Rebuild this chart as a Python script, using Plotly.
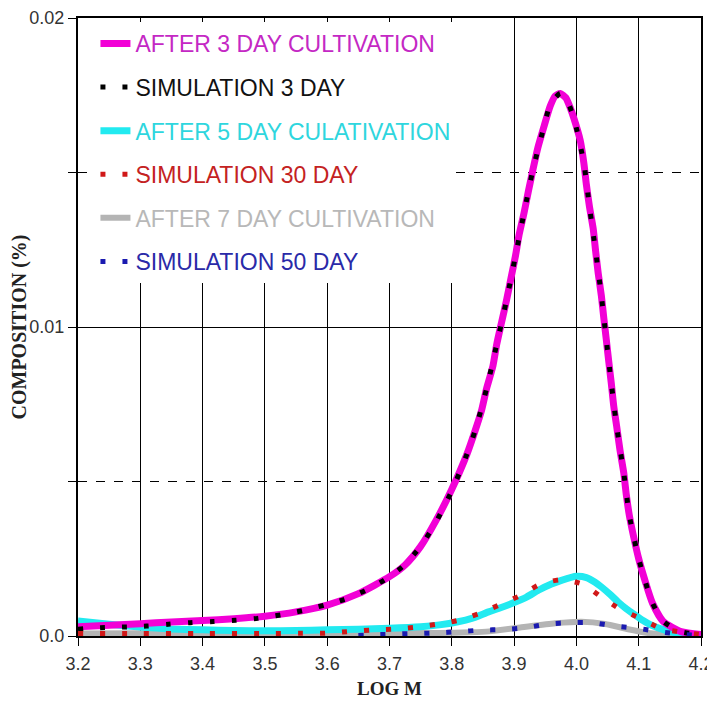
import plotly.graph_objects as go

# ---- data ----
x_after3 = [3.200, 3.250, 3.300, 3.350, 3.400, 3.450, 3.500, 3.550, 3.600, 3.650, 3.700, 3.725,
            3.750, 3.775, 3.800, 3.824, 3.838, 3.848, 3.856, 3.866, 3.872, 3.880, 3.888, 3.895,
            3.902, 3.908, 3.916, 3.923, 3.930, 3.938, 3.948, 3.958, 3.966, 3.974, 3.983, 3.990,
            3.996, 4.006, 4.012, 4.016, 4.021, 4.027, 4.031, 4.035, 4.040, 4.044, 4.048, 4.052,
            4.056, 4.060, 4.065, 4.070, 4.076, 4.080, 4.085, 4.092, 4.100, 4.110, 4.122, 4.139,
            4.168, 4.200]
y_after3 = [0.00030, 0.00035, 0.00040, 0.00045, 0.00050, 0.00056, 0.00064, 0.00078, 0.00100, 0.00137,
            0.00192, 0.00230, 0.00290, 0.00375, 0.00475, 0.00587, 0.00668, 0.00732, 0.00802, 0.00874,
            0.00943, 0.01016, 0.01088, 0.01158, 0.01228, 0.01298, 0.01370, 0.01440, 0.01507, 0.01579,
            0.01649, 0.01715, 0.01748, 0.01756, 0.01742, 0.01710, 0.01675, 0.01605, 0.01530, 0.01461,
            0.01389, 0.01318, 0.01243, 0.01174, 0.01102, 0.01029, 0.00959, 0.00887, 0.00818, 0.00743,
            0.00673, 0.00601, 0.00528, 0.00459, 0.00390, 0.00320, 0.00250, 0.00180, 0.00107, 0.00048,
            0.00014, 0.00005]

x_sim3 = [3.200, 3.236, 3.271, 3.310, 3.345, 3.380, 3.417, 3.453, 3.488, 3.525, 3.560, 3.596,
          3.628, 3.662, 3.693, 3.723, 3.750, 3.775, 3.800, 3.824, 3.838, 3.856, 3.872, 3.888,
          3.902, 3.916, 3.930, 3.948, 3.958, 3.974, 3.983, 3.996, 4.012, 4.021, 4.031, 4.040,
          4.048, 4.056, 4.065, 4.076, 4.085, 4.100, 4.110, 4.122, 4.139, 4.168, 4.200]
y_sim3 = [0.00022, 0.00027, 0.00029, 0.00032, 0.00038, 0.00043, 0.00047, 0.00051, 0.00057, 0.00068,
          0.00082, 0.00100, 0.00119, 0.00148, 0.00183, 0.00228, 0.00290, 0.00370, 0.00470, 0.00587,
          0.00668, 0.00802, 0.00943, 0.01088, 0.01228, 0.01370, 0.01507, 0.01649, 0.01720, 0.01756,
          0.01742, 0.01675, 0.01530, 0.01389, 0.01243, 0.01102, 0.00959, 0.00818, 0.00673, 0.00528,
          0.00390, 0.00250, 0.00180, 0.00107, 0.00048, 0.00014, 0.00004]

x_after5 = [3.200, 3.250, 3.300, 3.350, 3.400, 3.450, 3.500, 3.550, 3.600, 3.650, 3.700, 3.750,
            3.780, 3.810, 3.832, 3.859, 3.875, 3.896, 3.920, 3.939, 3.960, 3.976, 4.000, 4.016,
            4.030, 4.040, 4.055, 4.067, 4.080, 4.094, 4.107, 4.120, 4.142, 4.165, 4.200]
y_after5 = [0.00049, 0.00038, 0.00029, 0.00023, 0.00020, 0.00018, 0.00017, 0.00018, 0.00020, 0.00022,
            0.00025, 0.00030, 0.00036, 0.00046, 0.00057, 0.00078, 0.00089, 0.00105, 0.00126, 0.00148,
            0.00168, 0.00180, 0.00193, 0.00189, 0.00174, 0.00159, 0.00133, 0.00110, 0.00088, 0.00068,
            0.00050, 0.00035, 0.00019, 0.00008, 0.00002]

x_sim30 = [3.200, 3.300, 3.400, 3.500, 3.560, 3.597, 3.632, 3.669, 3.704, 3.739, 3.776, 3.811,
           3.844, 3.879, 3.911, 3.941, 3.975, 4.011, 4.040, 4.071, 4.103, 4.135, 4.170, 4.200]
y_sim30 = [0.00008, 0.00008, 0.00008, 0.00008, 0.00009, 0.00009, 0.00014, 0.00019, 0.00022, 0.00028,
           0.00038, 0.00051, 0.00073, 0.00103, 0.00132, 0.00167, 0.00182, 0.00167, 0.00126, 0.00086,
           0.00057, 0.00025, 0.00012, 0.00005]

x_after7 = [3.200, 3.300, 3.400, 3.500, 3.600, 3.700, 3.780, 3.830, 3.860, 3.912, 3.966, 4.008,
            4.046, 4.083, 4.115, 4.160, 4.200]
y_after7 = [0.00008, 0.00009, 0.00009, 0.00008, 0.00008, 0.00009, 0.00010, 0.00012, 0.00015, 0.00028,
            0.00041, 0.00046, 0.00039, 0.00022, 0.00010, 0.00003, 0.00001]

x_sim50 = [3.650, 3.669, 3.704, 3.739, 3.776, 3.811, 3.847, 3.883, 3.919, 3.955, 3.990, 4.025,
           4.063, 4.098, 4.133, 4.170, 4.200]
y_sim50 = [0.00002, 0.00003, 0.00006, 0.00008, 0.00010, 0.00014, 0.00019, 0.00021, 0.00027, 0.00039,
           0.00043, 0.00043, 0.00032, 0.00025, 0.00014, 0.00005, 0.00002]

names = ["AFTER 3 DAY CULTIVATION", "SIMULATION 3 DAY", "AFTER 5 DAY CULATIVATION",
         "SIMULATION 30 DAY", "AFTER 7 DAY CULTIVATION", "SIMULATION 50 DAY"]
x_ticks = [3.2, 3.3, 3.4, 3.5, 3.6, 3.7, 3.8, 3.9, 4.0, 4.1, 4.2]
y_ticks = [0.0, 0.01, 0.02]
y_ticktext = ["0.0", "0.01", "0.02"]

# ---- styles ----
C_MAG, C_CYAN, C_GRAY = "#f200d6", "#22eaf0", "#b4b4b4"
C_BLACK, C_RED, C_BLUE = "#000000", "#d01818", "#1a1ab0"
T_COL = ["#c428c4", "#111111", "#2ed6de", "#c42222", "#b8b8b8", "#2a2aa8"]
DOT = "5px,17px"
SERIF = "Liberation Serif, Times New Roman, serif"
SM = 0.6

def lbl(i):
    return f'<span style="color:{T_COL[i]}">{names[i]}</span>'

fig = go.Figure()
# drawing order: solid curves underneath, dotted simulations on top
fig.add_trace(go.Scatter(x=x_after7, y=y_after7, mode="lines", name=lbl(4), legendrank=5,
                         legendgroup="g5", line=dict(color=C_GRAY, width=6, shape="spline", smoothing=SM)))
fig.add_trace(go.Scatter(x=x_after5, y=y_after5, mode="lines", name=lbl(2), legendrank=3,
                         legendgroup="g3", line=dict(color=C_CYAN, width=7, shape="spline", smoothing=SM)))
fig.add_trace(go.Scatter(x=x_after3, y=y_after3, mode="lines", name=lbl(0), legendrank=1,
                         legendgroup="g1", line=dict(color=C_MAG, width=7, shape="spline", smoothing=SM)))
fig.add_trace(go.Scatter(x=x_sim3, y=y_sim3, mode="lines", name=lbl(1), legendrank=2,
                         legendgroup="g2", line=dict(color=C_BLACK, width=5, dash=DOT, shape="spline", smoothing=SM)))
fig.add_trace(go.Scatter(x=x_sim30, y=y_sim30, mode="lines", name=lbl(3), legendrank=4,
                         legendgroup="g4", line=dict(color=C_RED, width=5, dash=DOT, shape="spline", smoothing=SM)))
fig.add_trace(go.Scatter(x=x_sim50, y=y_sim50, mode="lines", name=lbl(5), legendrank=6,
                         legendgroup="g6", line=dict(color=C_BLUE, width=5, dash=DOT, shape="spline", smoothing=SM)))

fig.update_layout(
    width=707, height=695,
    margin=dict(l=70, r=14, t=10, b=67),
    paper_bgcolor="white", plot_bgcolor="white",
    font=dict(family="Liberation Sans, Arial, sans-serif", color="#222222"),
    legend=dict(
        x=0.028, y=0.9935, xanchor="left", yanchor="top",
        bgcolor="white", borderwidth=0,
        font=dict(size=23, family="Liberation Sans, Arial, sans-serif"),
        tracegroupgap=10.7, itemclick=False,
    ),
    xaxis=dict(
        range=[3.2, 4.2], tickvals=x_ticks, tickformat=".1f", automargin=False,
        showgrid=True, gridcolor="black", gridwidth=1,
        showline=True, linecolor="black", linewidth=1.5, mirror=True,
        ticks="outside", ticklen=8, tickcolor="black", tickwidth=1,
        tickfont=dict(size=18, color="#333333"), ticklabelstandoff=3,
        zeroline=False,
        title=dict(text="<b>LOG M</b>", font=dict(family=SERIF, size=19, color="#222222"), standoff=8),
    ),
    yaxis=dict(
        range=[0, 0.02], tickvals=y_ticks, ticktext=y_ticktext, automargin=False,
        showgrid=True, gridcolor="black", gridwidth=1,
        showline=True, linecolor="black", linewidth=2, mirror=True,
        ticks="outside", ticklen=8, tickcolor="black", tickwidth=1,
        tickfont=dict(size=18, color="#333333"),
        zeroline=False,
        minor=dict(tickvals=[0.005, 0.015], showgrid=True, gridcolor="black", gridwidth=1,
                   griddash="dash", ticks="outside", ticklen=8, tickcolor="black"),
        title=dict(text="<b>COMPOSITION (%)</b>", font=dict(family=SERIF, size=20, color="#222222"), standoff=2),
    ),
)

fig.write_html("out.html")
